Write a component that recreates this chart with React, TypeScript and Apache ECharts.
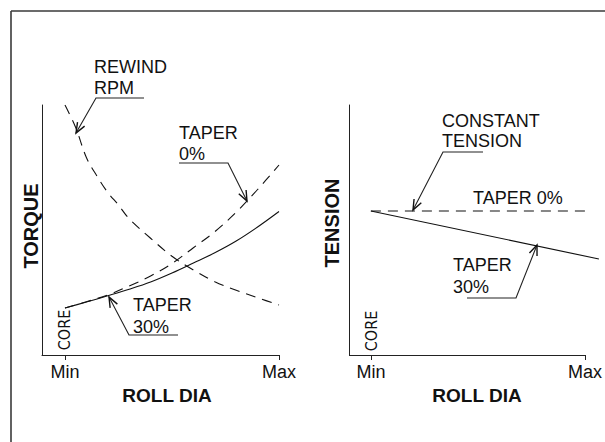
import React, { useEffect, useRef } from 'react';
import * as echarts from 'echarts';

// Left chart: torque / rewind rpm vs roll diameter (0 = Min/core, 100 = Max)
const rewindDia = [0, 5, 10, 15, 20, 25, 30, 40, 50, 60, 70, 80, 90, 100];
const rewindRpm = [100, 91, 79, 71.5, 65, 60, 54.5, 46.7, 39.5, 34, 29.3, 25.9, 22.9, 20];
const taperDia = [0, 10, 20, 30, 40, 50, 60, 70, 80, 90, 100];
const torqueTaper0 = [18.8, 21.3, 24, 27.6, 31.6, 36.6, 42.9, 49.3, 57.1, 66.2, 76];
const torqueTaper30 = [18.8, 21.2, 23.7, 26.3, 29.2, 32.8, 36.8, 40.9, 45.6, 51.2, 57.4];
// Right chart: tension vs roll diameter
const tensionDia0 = [0, 100];
const tensionTaper0 = [57.6, 57.6];
const tensionDia30 = [0, 106.5];
const tensionTaper30 = [57.6, 38.4];
// Axis ticks
const xTickValues = [0, 100];
const xTickLabels = ['Min', 'Max'];

const FONT = '"Liberation Sans", Arial, Helvetica, sans-serif';
const INK = '#111';

const zip = (xs: number[], ys: number[]) => xs.map((x, i) => [x, ys[i]]);

function leader(points: number[][], len = 11, spread = 0.38): any[] {
  const tip = points[points.length - 1];
  const prev = points[points.length - 2];
  const ang = Math.atan2(prev[1] - tip[1], prev[0] - tip[0]);
  const p1 = [tip[0] + len * Math.cos(ang + spread), tip[1] + len * Math.sin(ang + spread)];
  const p2 = [tip[0] + len * Math.cos(ang - spread), tip[1] + len * Math.sin(ang - spread)];
  return [
    { type: 'polyline', silent: true, shape: { points }, style: { stroke: '#222', lineWidth: 1.1, fill: null } },
    { type: 'polyline', silent: true, shape: { points: [p1, tip, p2] }, style: { stroke: '#111', lineWidth: 1.4, fill: null } },
  ];
}

function label(text: string, x: number, y: number, extra: any = {}): any {
  return {
    type: 'text',
    silent: true,
    x,
    y,
    style: {
      text,
      x: 0,
      y: 0,
      fill: INK,
      fontSize: 18,
      fontFamily: FONT,
      align: 'left',
      verticalAlign: 'middle',
      ...extra,
    },
  };
}

function rotated(text: string, x: number, y: number, extra: any = {}): any {
  return {
    type: 'text',
    silent: true,
    x,
    y,
    rotation: Math.PI / 2,
    style: {
      text,
      x: 0,
      y: 0,
      fill: INK,
      fontFamily: FONT,
      align: 'center',
      verticalAlign: 'middle',
      ...extra,
    },
  };
}

function xAxisDef(gridIndex: number, min: number, max: number, showLine: boolean) {
  return {
    type: 'value',
    gridIndex,
    min,
    max,
    axisLine: { show: showLine, onZero: false, lineStyle: { color: '#222', width: 1 } },
    axisTick: { show: true, customValues: xTickValues, length: 5, lineStyle: { color: '#222', width: 1 } },
    axisLabel: {
      show: true,
      customValues: xTickValues,
      formatter: (v: number) => xTickLabels[xTickValues.indexOf(v)] ?? '',
      fontSize: 18,
      fontFamily: FONT,
      color: INK,
      margin: 8,
    },
    splitLine: { show: false },
  };
}

function yAxisDef(gridIndex: number) {
  return {
    type: 'value',
    gridIndex,
    min: 0,
    max: 100,
    axisLine: { show: true, onZero: false, lineStyle: { color: '#222', width: 1 } },
    axisTick: { show: false },
    axisLabel: { show: false },
    splitLine: { show: false },
  };
}

const dashed = { color: INK, width: 1.1, type: [10, 7] as number[] };
const solid = { color: INK, width: 1.1, type: 'solid' };

const RIGHT_MIN = -10.23;
const RIGHT_MAX = 106.5;

export default function App() {
  const ref = useRef<HTMLDivElement>(null);
  useEffect(() => {
    if (!ref.current) return;
    const chart = echarts.init(ref.current, undefined, { renderer: 'svg' });
    const graphic: any[] = [
      // frame
      { type: 'line', silent: true, shape: { x1: 11, y1: 11, x2: 605, y2: 11 }, style: { stroke: '#3a3a3a', lineWidth: 1.6 } },
      { type: 'line', silent: true, shape: { x1: 11, y1: 11, x2: 11, y2: 442 }, style: { stroke: '#3a3a3a', lineWidth: 1.6 } },
      // axis titles
      rotated('TORQUE', 31, 226, { fontSize: 20, fontWeight: 'bold' }),
      rotated('TENSION', 332, 223, { fontSize: 20, fontWeight: 'bold' }),
      label('ROLL DIA', 167, 395, { fontSize: 19, fontWeight: 'bold', align: 'center' }),
      label('ROLL DIA', 477, 395, { fontSize: 19, fontWeight: 'bold', align: 'center' }),
      rotated('CORE', 64, 330, { fontSize: 16, fontFamily: '"Liberation Sans Narrow", "DejaVu Sans Condensed", Arial, sans-serif' }),
      rotated('CORE', 371, 331, { fontSize: 16, fontFamily: '"Liberation Sans Narrow", "DejaVu Sans Condensed", Arial, sans-serif' }),
      // left annotations
      label('REWIND', 94, 67),
      label('RPM', 94, 88),
      ...leader([[144, 98], [96, 98], [76, 133]]),
      label('TAPER', 179, 133),
      label('0%', 179, 154),
      ...leader([[179, 163], [228, 163], [247, 201]]),
      label('TAPER', 133, 305),
      label('30%', 133, 327),
      ...leader([[178, 335], [129, 335], [109, 297]]),
      // right annotations
      label('CONSTANT', 442, 121),
      label('TENSION', 442, 141),
      ...leader([[483, 152], [443, 152], [413, 210]]),
      label('TAPER 0%', 473, 198),
      label('TAPER', 453, 265),
      label('30%', 453, 287),
      ...leader([[467, 298], [516, 298], [537, 245]]),
    ];

    chart.setOption({
      animation: false,
      backgroundColor: '#fff',
      grid: [
        { left: 42, top: 105, width: 237, height: 250 },
        { left: 349, top: 105, width: 251, height: 250 },
      ],
      xAxis: [xAxisDef(0, -10.74, 100, true), xAxisDef(1, RIGHT_MIN, RIGHT_MAX, false)],
      yAxis: [yAxisDef(0), yAxisDef(1)],
      series: [
        { name: 'REWIND RPM', type: 'line', xAxisIndex: 0, yAxisIndex: 0, data: zip(rewindDia, rewindRpm), smooth: 0.35, showSymbol: false, lineStyle: dashed },
        { name: 'TAPER 0%', type: 'line', xAxisIndex: 0, yAxisIndex: 0, data: zip(taperDia, torqueTaper0), smooth: 0.35, showSymbol: false, lineStyle: dashed },
        { name: 'TAPER 30%', type: 'line', xAxisIndex: 0, yAxisIndex: 0, data: zip(taperDia, torqueTaper30), smooth: 0.35, showSymbol: false, lineStyle: solid },
        {
          name: 'TENSION TAPER 0%', type: 'line', xAxisIndex: 1, yAxisIndex: 1, data: zip(tensionDia0, tensionTaper0), showSymbol: false, lineStyle: dashed,
          markLine: {
            silent: true,
            symbol: ['none', 'none'],
            label: { show: false },
            lineStyle: { color: '#222', width: 1, type: 'solid' },
            data: [[{ coord: [RIGHT_MIN, 0] }, { coord: [xTickValues[1], 0] }]],
          },
        },
        { name: 'TENSION TAPER 30%', type: 'line', xAxisIndex: 1, yAxisIndex: 1, data: zip(tensionDia30, tensionTaper30), showSymbol: false, lineStyle: solid },
      ],
      graphic,
    });
    return () => chart.dispose();
  }, []);
  return <div ref={ref} style={{ position: 'fixed', left: 0, top: 0, width: 605, height: 442 }} />;
}
